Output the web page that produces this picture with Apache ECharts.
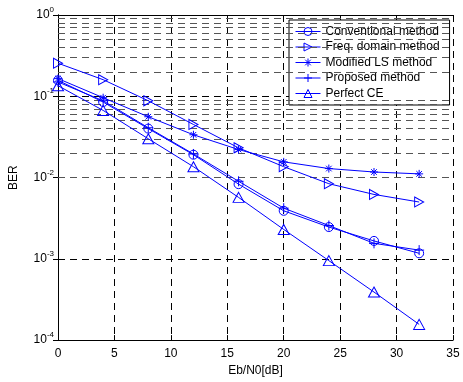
<!DOCTYPE html>
<html>
<head>
<meta charset="utf-8">
<script src="https://cdn.jsdelivr.net/npm/echarts@6/dist/echarts.min.js"></script>
<style>
  html, body { margin: 0; padding: 0; background: #fff; }
  #chart { width: 463px; height: 382px; }
</style>
</head>
<body>
<div id="chart"></div>
<script>
// Eb/N0 [dB]
const snr = [0, 4, 8, 12, 16, 20, 24, 28, 32];
const conventional = [0.157, 0.085, 0.040, 0.0191, 0.0083, 0.0039, 0.00246, 0.00166, 0.00117];
const freqDomain = [0.255, 0.160, 0.088, 0.045, 0.0232, 0.0136, 0.0084, 0.0062, 0.0050];
const modifiedLS = [0.165, 0.096, 0.056, 0.0336, 0.0221, 0.0156, 0.0129, 0.0117, 0.0111];
const proposed = [0.150, 0.088, 0.041, 0.0195, 0.0090, 0.0042, 0.00257, 0.00155, 0.00128];
const perfectCE = [0.135, 0.067, 0.030, 0.0136, 0.0057, 0.0023, 0.00095, 0.00039, 0.000156];
const seriesNames = ['Conventional method', 'Freq. domain method', 'Modified LS method', 'Proposed method', 'Perfect CE'];
// minor log grid lines (2..9 of each decade)
const minorGrid = [];
[1e-4, 1e-3, 1e-2, 1e-1].forEach(d => { for (let k = 2; k <= 9; k++) minorGrid.push(+(d * k).toPrecision(3)); });

const blue = '#0000ff';
const font = 'Liberation Sans, Arial, sans-serif';

const circleSym = 'path://M1,0A1,1,0,1,1,-1,0A1,1,0,1,1,1,0Z';
const upTri = 'path://M0,-1L1,0.8L-1,0.8Z';
const rightTri = 'path://M-1,-1L1,0L-1,1Z';
const plusSym = 'path://M0,-1L0,1M-1,0L1,0';
const starSym = 'path://M0,-1L0,1M-1,0L1,0M-0.7,-0.7L0.7,0.7M-0.7,0.7L0.7,-0.7';

function pairs(ys) { return snr.map((x, i) => [x, ys[i]]); }

function mkSeries(name, data, symbol, size) {
  return {
    name: name,
    type: 'line',
    data: pairs(data),
    symbol: symbol,
    symbolSize: size,
    showAllSymbol: true,
    color: blue,
    lineStyle: { color: blue, width: 1, type: 'solid' },
    itemStyle: { color: 'none', borderColor: blue, borderWidth: 1 },
    emphasis: { disabled: true },
    animation: false,
    z: 5
  };
}

const series = [
  mkSeries(seriesNames[0], conventional, circleSym, 9),
  mkSeries(seriesNames[1], freqDomain, rightTri, [9, 10]),
  mkSeries(seriesNames[2], modifiedLS, starSym, 8),
  mkSeries(seriesNames[3], proposed, plusSym, 10),
  mkSeries(seriesNames[4], perfectCE, upTri, [11, 10])
];
series.push({
  type: 'line',
  data: [],
  silent: true,
  markLine: {
    silent: true,
    symbol: 'none',
    label: { show: false },
    lineStyle: { color: '#555', type: [7, 5], width: 1 },
    data: minorGrid.map(v => ({ yAxis: v })),
    animation: false
  },
  z: 1
});

const myChart = echarts.init(document.getElementById('chart'));
const option = {
  animation: false,
  backgroundColor: '#fff',
  grid: { left: 55, right: 10, top: 15, bottom: 35 },
  legend: {
    data: seriesNames,
    orient: 'vertical',
    left: 289,
    top: 20,
    backgroundColor: '#fff',
    borderColor: '#000',
    borderWidth: 1,
    borderRadius: 0,
    padding: [5, 10, 5, 6],
    itemWidth: 25,
    itemHeight: 10,
    itemGap: 2.5,
    lineStyle: { width: 1 },
    itemStyle: { borderWidth: 1 },
    textStyle: { fontFamily: font, fontSize: 12, lineHeight: 12, color: '#000' },
    selectedMode: false
  },
  xAxis: [{
    type: 'value',
    min: 0, max: 35, interval: 5,
    name: 'Eb/N0[dB]',
    nameLocation: 'middle',
    nameGap: 23,
    nameTextStyle: { fontFamily: font, fontSize: 12, color: '#000' },
    axisLine: { lineStyle: { color: '#000', width: 1 } },
    axisTick: { inside: true, length: 5, lineStyle: { color: '#000' } },
    axisLabel: { fontFamily: font, fontSize: 12, color: '#000', margin: 8 },
    splitLine: { show: true, lineStyle: { color: '#000', type: [7, 5], width: 1 } }
  }, {
    type: 'value',
    position: 'top',
    min: 0, max: 35, interval: 5,
    axisLine: { show: true, lineStyle: { color: '#000', width: 1 } },
    axisTick: { show: true, inside: true, length: 5, lineStyle: { color: '#000' } },
    axisLabel: { show: false },
    splitLine: { show: false }
  }],
  yAxis: [{
    type: 'log',
    logBase: 10,
    min: 1e-4, max: 1,
    name: 'BER',
    nameLocation: 'middle',
    nameGap: 38,
    nameTextStyle: { fontFamily: font, fontSize: 12, color: '#000' },
    axisLine: { show: true, lineStyle: { color: '#000', width: 1 } },
    axisTick: { show: true, inside: true, length: 5, lineStyle: { color: '#000' } },
    axisLabel: {
      margin: 4,
      formatter: function (v) {
        const e = Math.round(Math.log10(v));
        return '{b|10}{e|' + e + '}';
      },
      rich: {
        b: { fontFamily: font, fontSize: 12, color: '#000' },
        e: { fontFamily: font, fontSize: 8, color: '#000', padding: [0, 0, 10, 0] }
      }
    },
    splitLine: { show: true, lineStyle: { color: '#000', type: [7, 5], width: 1 } }
  }, {
    type: 'log',
    logBase: 10,
    min: 1e-4, max: 1,
    position: 'right',
    axisLine: { show: true, lineStyle: { color: '#000', width: 1 } },
    axisTick: { show: true, inside: true, length: 5, lineStyle: { color: '#000' } },
    axisLabel: { show: false },
    splitLine: { show: false }
  }],
  series: series
};
myChart.setOption(option);
</script>
</body>
</html>
